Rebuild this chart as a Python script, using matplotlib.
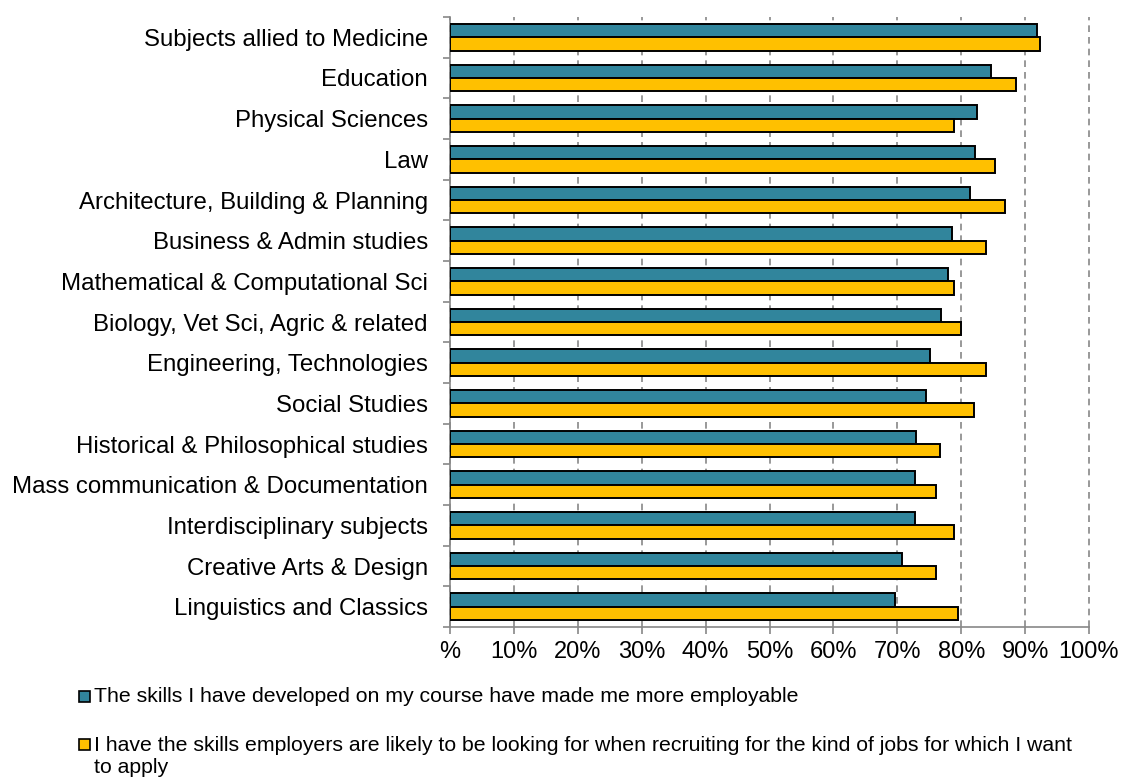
import numpy as np
import matplotlib
matplotlib.use("Agg")
import matplotlib.pyplot as plt
from matplotlib.patches import Rectangle
from matplotlib.ticker import FuncFormatter

plt.rcParams['font.family'] = ['Liberation Sans', 'DejaVu Sans']

subjects = [
    "Subjects allied to Medicine",
    "Education",
    "Physical Sciences",
    "Law",
    "Architecture, Building & Planning",
    "Business & Admin studies",
    "Mathematical & Computational Sci",
    "Biology, Vet Sci, Agric & related",
    "Engineering, Technologies",
    "Social Studies",
    "Historical & Philosophical studies",
    "Mass communication & Documentation",
    "Interdisciplinary subjects",
    "Creative Arts & Design",
    "Linguistics and Classics",
]
employable = [91.8, 84.7, 82.5, 82.1, 81.4, 78.5, 78.0, 76.9, 75.1, 74.5,
              72.9, 72.8, 72.8, 70.7, 69.7]
skills_sought = [92.4, 88.6, 78.9, 85.3, 86.8, 83.9, 78.9, 79.9, 83.9, 82.0,
                 76.7, 76.0, 78.9, 76.0, 79.5]
legend_labels = [
    "The skills I have developed on my course have made me more employable",
    "I have the skills employers are likely to be looking for when recruiting for the kind of jobs for which I want\nto apply",
]

TEAL = "#31859C"
GOLD = "#FFC000"
W, H = 1121, 778

fig = plt.figure(figsize=(W / 100, H / 100), dpi=100)
ax = fig.add_axes([450 / W, 1 - 627 / H, 639 / W, 610 / H])

y = np.arange(len(subjects))
h = 0.33
ax.barh(y - h / 2, employable, height=h, color=TEAL, edgecolor="black", linewidth=1.4, zorder=3)
ax.barh(y + h / 2, skills_sought, height=h, color=GOLD, edgecolor="black", linewidth=1.4, zorder=3)

ax.set_ylim(len(subjects) - 0.5, -0.5)
ax.set_xlim(0, 100)
ax.set_xticks(np.arange(0, 101, 10))
ax.xaxis.set_major_formatter(FuncFormatter(lambda v, p: "%" if v == 0 else f"{v:.0f}%"))
ax.set_yticks(y)
ax.set_yticklabels(subjects, fontsize=17.3)
ax.set_yticks(np.arange(-0.5, len(subjects)), minor=True)
ax.tick_params(axis='y', which='major', length=0, pad=16)
ax.tick_params(axis='y', which='minor', length=5, color="#888888", width=1.2)
ax.tick_params(axis='x', labelsize=17, length=5, color="#888888", width=1.2, pad=5)

ax.grid(axis='x', color="#888888", linestyle=(0, (4, 3)), linewidth=1.2, zorder=0)
for gl in ax.get_xgridlines():
    gl.set_clip_on(False)
for s in ["top", "right"]:
    ax.spines[s].set_visible(False)
for s in ["left", "bottom"]:
    ax.spines[s].set_color("#888888")
    ax.spines[s].set_linewidth(1.2)

# legend drawn by hand below the plot
legend_rows = [696, 756.5]
legend_colors = [TEAL, GOLD]
square_rows = [696, 744]
for label, color, ty, sy in zip(legend_labels, legend_colors, legend_rows, square_rows):
    fig.patches.append(Rectangle((79 / W, 1 - (sy + 5.5) / H), 11 / W, 11 / H,
                                 transform=fig.transFigure, facecolor=color,
                                 edgecolor="black", linewidth=1.2))
    fig.text(94 / W, 1 - ty / H, label, fontsize=15.3, va="center", ha="left",
             linespacing=1.25)

fig.savefig("out.png", dpi=100)
